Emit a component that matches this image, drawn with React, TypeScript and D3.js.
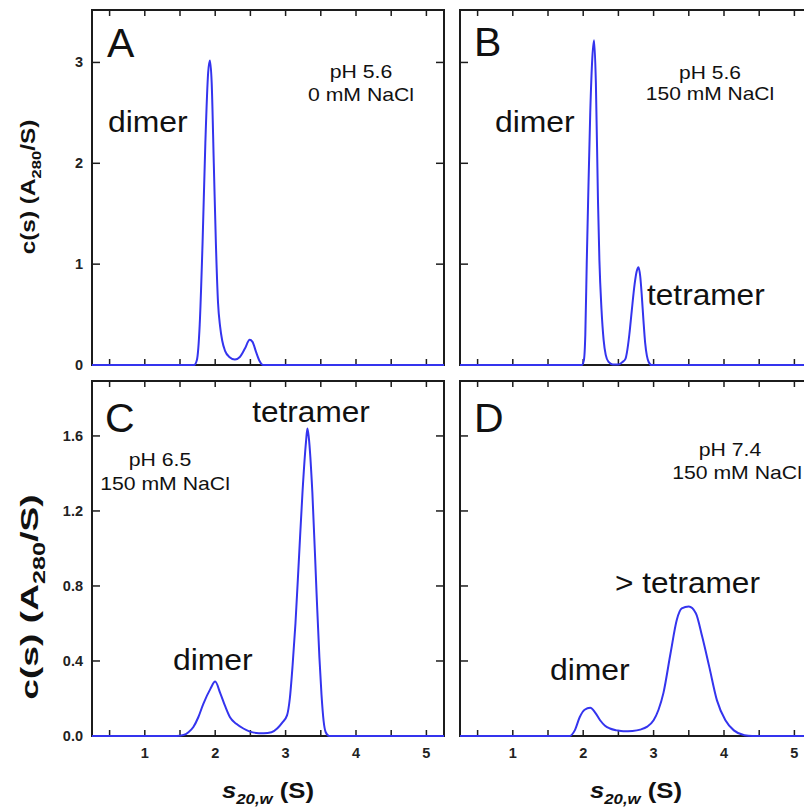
import React from "react"
import * as d3 from "d3"

// s20,w axis (S)
const sDomain = [0.25, 5.25]
const sLabelTicks = [1, 2, 3, 4, 5]
const sTicks = [0.5, 1, 1.5, 2, 2.5, 3, 3.5, 4, 4.5, 5]
const topYTicks = [0, 1, 2, 3]
const bottomYTicks = [0, 0.4, 0.8, 1.2, 1.6]

// A: pH 5.6, 0 mM NaCl
const sA = [0.25, 1.7, 1.74, 1.78, 1.82, 1.86, 1.9, 1.925, 1.95, 1.98, 2.01, 2.04, 2.07, 2.1, 2.14, 2.2, 2.28, 2.35, 2.42, 2.49, 2.53, 2.58, 2.63, 2.68, 5.25]
const cA = [0, 0, 0.05, 0.4, 1.2, 2.2, 2.9, 3.02, 2.8, 2.0, 1.2, 0.62, 0.38, 0.24, 0.14, 0.08, 0.055, 0.08, 0.16, 0.25, 0.23, 0.13, 0.04, 0, 0]

// B: pH 5.6, 150 mM NaCl
const sB = [0.25, 1.98, 2.01, 2.03, 2.05, 2.07, 2.1, 2.13, 2.155, 2.18, 2.21, 2.23, 2.26, 2.29, 2.32, 2.36, 2.42, 2.5, 2.56, 2.6, 2.62, 2.655, 2.69, 2.73, 2.76, 2.785, 2.81, 2.83, 2.855, 2.88, 2.905, 2.93, 2.97, 5.25]
const cB = [0, 0, 0.05, 0.3, 1.0, 1.63, 2.5, 3.05, 3.22, 2.8, 1.63, 1.04, 0.55, 0.25, 0.1, 0.03, 0.005, 0.005, 0.03, 0.06, 0.12, 0.3, 0.54, 0.8, 0.93, 0.97, 0.88, 0.71, 0.45, 0.22, 0.09, 0.03, 0, 0]

// C: pH 6.5, 150 mM NaCl
const sC = [0.25, 1.45, 1.55, 1.62, 1.69, 1.76, 1.83, 1.93, 2.0, 2.07, 2.14, 2.21, 2.3, 2.4, 2.55, 2.69, 2.8, 2.88, 2.95, 3.02, 3.06, 3.1, 3.14, 3.19, 3.24, 3.29, 3.31, 3.33, 3.38, 3.44, 3.48, 3.51, 3.54, 3.57, 3.62, 5.25]
const cC = [0, 0, 0.005, 0.02, 0.048, 0.1, 0.17, 0.25, 0.29, 0.23, 0.16, 0.1, 0.065, 0.04, 0.018, 0.015, 0.02, 0.04, 0.07, 0.11, 0.2, 0.38, 0.6, 0.95, 1.3, 1.57, 1.64, 1.59, 1.3, 0.76, 0.42, 0.22, 0.08, 0.02, 0, 0]

// D: pH 7.4, 150 mM NaCl
const sD = [0.25, 1.81, 1.88, 1.95, 2.02, 2.1, 2.17, 2.24, 2.31, 2.38, 2.48, 2.57, 2.7, 2.81, 2.91, 3.0, 3.07, 3.14, 3.24, 3.33, 3.4, 3.5, 3.6, 3.69, 3.79, 3.9, 4.02, 4.14, 4.29, 4.4, 5.25]
const cD = [0, 0, 0.03, 0.1, 0.14, 0.15, 0.125, 0.084, 0.055, 0.04, 0.03, 0.025, 0.027, 0.034, 0.05, 0.084, 0.14, 0.23, 0.44, 0.62, 0.68, 0.69, 0.655, 0.53, 0.37, 0.19, 0.084, 0.03, 0.004, 0, 0]

const FONT = "'Liberation Sans', Arial, Helvetica, sans-serif"
const BLUE = "#3434ee"
const INK = "#1c1c1c"
const PW = 352
const PH = 355

// stretched text helper (the figure's lettering is wide)
const Label = ({ x, y, size, k = 1, anchor = "start", weight = "normal", children }) => (
  <text
    transform={`translate(${x},${y}) scale(${k},1)`}
    fontSize={size}
    fontWeight={weight}
    textAnchor={anchor}
    fill="#111"
  >
    {children}
  </text>
)

const Panel = ({ left, top, yMax, yTicks, yFmt, s, c, yLabels, xLabels, children }) => {
  const x = d3.scaleLinear().domain(sDomain).range([left, left + PW])
  const y = d3.scaleLinear().domain([0, yMax]).range([top + PH, top])
  const pts = s.map((v, i) => [v, c[i]])
  const line = d3
    .line()
    .x((d) => x(d[0]))
    .y((d) => y(d[1]))
    .curve(d3.curveMonotoneX)
  const bottom = top + PH
  return (
    <g>
      <rect x={left} y={top} width={PW} height={PH} fill="none" stroke={INK} strokeWidth={2} />
      {sTicks.map((t) => (
        <g key={t}>
          <line x1={x(t)} x2={x(t)} y1={bottom} y2={bottom - 6} stroke={INK} strokeWidth={1.5} />
          <line x1={x(t)} x2={x(t)} y1={top} y2={top + 6} stroke={INK} strokeWidth={1.5} />
        </g>
      ))}
      {yTicks.slice(1).map((t) => (
        <g key={t}>
          <line x1={left} x2={left + 8} y1={y(t)} y2={y(t)} stroke={INK} strokeWidth={1.5} />
          <line x1={left + PW} x2={left + PW - 8} y1={y(t)} y2={y(t)} stroke={INK} strokeWidth={1.5} />
        </g>
      ))}
      <path d={line(pts)} fill="none" stroke={BLUE} strokeWidth={2} />
      {yLabels &&
        yTicks.map((t) => (
          <text key={t} x={left - 9} y={y(t) + 5} fontSize={14.5} fontWeight="bold" textAnchor="end" fill="#222">
            {yFmt(t)}
          </text>
        ))}
      {xLabels &&
        sLabelTicks.map((t) => (
          <text key={t} x={x(t)} y={bottom + 22} fontSize={14.5} fontWeight="bold" textAnchor="middle" fill="#222">
            {t}
          </text>
        ))}
      {children}
    </g>
  )
}

const YTitle = ({ x, y, size, k }) => (
  <text
    transform={`translate(${x},${y}) rotate(-90) scale(${k},1)`}
    fontSize={size}
    fontWeight="bold"
    textAnchor="middle"
    fill="#111"
  >
    c(s) (A
    <tspan fontSize={size * 0.68} dy={size * 0.3}>280</tspan>
    <tspan dy={-size * 0.3}>/S)</tspan>
  </text>
)

const XTitle = ({ x, y }) => (
  <text
    transform={`translate(${x},${y}) scale(1.12,1)`}
    fontSize={23}
    fontWeight="bold"
    textAnchor="middle"
    fill="#111"
  >
    <tspan fontStyle="italic">s</tspan>
    <tspan fontStyle="italic" fontSize={15} dy={6}>20,w</tspan>
    <tspan dy={-6}> (S)</tspan>
  </text>
)

export default function App() {
  const fmtTop = d3.format("d")
  const fmtBottom = d3.format(".1f")
  return (
    <svg
      width={804}
      height={811}
      style={{ position: "absolute", left: 0, top: 0, background: "#fff", fontFamily: FONT }}
    >
      <rect width={804} height={811} fill="#fff" />
      <YTitle x={35} y={187} size={20} k={1.22} />
      <YTitle x={38} y={597} size={24} k={1.55} />

      <Panel left={92} top={10} yMax={3.52} yTicks={topYTicks} yFmt={fmtTop} s={sA} c={cA} yLabels>
        <Label x={107} y={57} size={41}>A</Label>
        <Label x={108} y={132} size={29} k={1.1}>dimer</Label>
        <Label x={361} y={78} size={18} k={1.18} anchor="middle">pH 5.6</Label>
        <Label x={361} y={101} size={18} k={1.18} anchor="middle">0 mM NaCl</Label>
      </Panel>

      <Panel left={460} top={10} yMax={3.52} yTicks={topYTicks} yFmt={fmtTop} s={sB} c={cB}>
        <Label x={474} y={56} size={41}>B</Label>
        <Label x={495} y={132} size={29} k={1.1}>dimer</Label>
        <Label x={647} y={305} size={29} k={1.09}>tetramer</Label>
        <Label x={710} y={79} size={17.5} k={1.2} anchor="middle">pH 5.6</Label>
        <Label x={710} y={100} size={17.5} k={1.2} anchor="middle">150 mM NaCl</Label>
      </Panel>

      <Panel left={92} top={381} yMax={1.893} yTicks={bottomYTicks} yFmt={fmtBottom} s={sC} c={cC} yLabels xLabels>
        <Label x={105} y={432} size={41}>C</Label>
        <Label x={311} y={422} size={29} k={1.09} anchor="middle">tetramer</Label>
        <Label x={160} y={466} size={18} k={1.18} anchor="middle">pH 6.5</Label>
        <Label x={165} y={490} size={18} k={1.18} anchor="middle">150 mM NaCl</Label>
        <Label x={173} y={670} size={29} k={1.1}>dimer</Label>
      </Panel>

      <Panel left={460} top={381} yMax={1.893} yTicks={bottomYTicks} yFmt={fmtBottom} s={sD} c={cD} xLabels>
        <Label x={474} y={432} size={41}>D</Label>
        <Label x={730} y={456} size={18} k={1.18} anchor="middle">pH 7.4</Label>
        <Label x={737} y={479} size={18} k={1.18} anchor="middle">150 mM NaCl</Label>
        <Label x={615} y={593} size={29} k={1.09}>{"> tetramer"}</Label>
        <Label x={550} y={680} size={29} k={1.1}>dimer</Label>
      </Panel>

      <XTitle x={268} y={798} />
      <XTitle x={636} y={798} />
    </svg>
  )
}
